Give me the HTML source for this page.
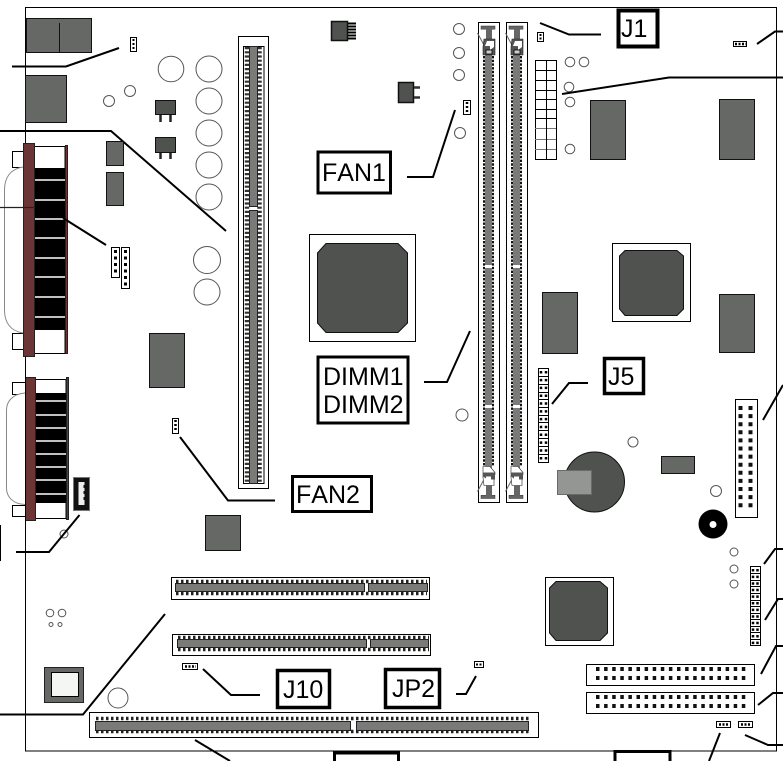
<!DOCTYPE html>
<html><head><meta charset="utf-8"><style>
html,body{margin:0;padding:0;background:#fff;width:783px;height:761px;overflow:hidden}
svg{display:block}
text{font-family:"Liberation Sans",sans-serif;font-size:25px;fill:#000;font-kerning:none}
.b{fill:#666865;stroke:#111;stroke-width:1}
.d{fill:#50524f;stroke:#111;stroke-width:1}
.c{fill:#fff;stroke:#555;stroke-width:1}
.w{fill:#fff;stroke:#000;stroke-width:1}
.l{fill:none;stroke:#000;stroke-width:2}
.x{fill:#fff;stroke:#000;stroke-width:3}
.s{fill:#7a7b79;stroke:#222;stroke-width:1}
.wl{stroke:#fff;stroke-width:1.6}
.br{fill:#6b3535;stroke:#222;stroke-width:1}
.dot{fill:none;stroke:#000;stroke-width:3}
</style></head><body>
<svg width="783" height="761" viewBox="0 0 783 761" xmlns="http://www.w3.org/2000/svg">
<rect x="25.5" y="7.5" width="751" height="743.5" fill="#fff" stroke="#000" stroke-width="1"/>

<!-- top-left -->
<rect class="b" x="26.5" y="18.5" width="65" height="34"/><path d="M59.5 23V52" stroke="#111"/>
<rect class="b" x="25.5" y="75.5" width="41" height="47"/>
<rect class="w" x="130.5" y="37.5" width="6" height="14"/><path d="M133.5 39V49" stroke="#000" stroke-width="2" stroke-dasharray="2 2"/>
<path class="l" d="M12 66.500H66L119 48"/>
<g class="c">
<circle cx="171" cy="69" r="12.800"/><circle cx="209" cy="69" r="13"/><circle cx="209" cy="101" r="13"/><circle cx="209" cy="133" r="13"/><circle cx="209" cy="165" r="13"/><circle cx="209" cy="197" r="13"/><circle cx="207" cy="260" r="13.500"/><circle cx="207" cy="292" r="13"/>
<circle cx="109" cy="101" r="5.500"/><circle cx="130" cy="91" r="5.500"/>
</g>
<rect class="d" x="155.500" y="100.500" width="20" height="14"/><rect class="d" x="155.500" y="137.500" width="20" height="15"/>
<path d="M160.500 115V122M170.500 115V122M160.500 153V159M170.500 153V159" stroke="#222" stroke-width="2.500"/>
<path class="l" d="M0 131H111L226 231"/>
<rect class="b" x="106.500" y="141.500" width="17" height="24"/><rect class="b" x="106.500" y="172.500" width="17" height="33"/>

<!-- upper D connector -->
<rect class="w" x="12.500" y="151.500" width="11" height="16"/><rect class="w" x="12.500" y="333.500" width="11" height="16"/>
<path d="M23 167C10 169 4.500 178 4.500 190V310C4.500 322 10 331 23 333" fill="#fff" stroke="#888" stroke-width="1"/>
<rect class="w" x="34" y="146.500" width="31" height="207"/>
<rect x="34" y="168" width="31" height="162" fill="#000"/>
<path class="wl" d="M35 180H65M35 200H65M35 219H65M35 238H65M35 258H65M35 277H65M35 297H65M35 317H65"/>
<rect class="br" x="23.500" y="143.500" width="11" height="213"/>
<rect class="br" x="65.500" y="145.500" width="2" height="208"/>
<path d="M0 207.500H34" stroke="#222" stroke-width="1.200"/>
<path d="M63 218L106 245" stroke="#000" stroke-width="2"/>
<rect class="w" x="111.500" y="247.500" width="8" height="30"/><rect class="w" x="121.500" y="247.500" width="8" height="41"/>
<path class="dot" d="M115.500 250V276M125.500 250V287" stroke-dasharray="3 3.500"/>

<!-- lower D connector -->
<rect class="w" x="12.500" y="382.500" width="13" height="12"/><rect class="w" x="12.500" y="505.500" width="14" height="11"/>
<path d="M25 393C12 394 6.500 402 6.500 410V488C6.500 496 12 504 25 504.500" fill="#fff" stroke="#888"/>
<rect class="w" x="35" y="379.500" width="31" height="139"/>
<rect x="35" y="393" width="31" height="110" fill="#000"/>
<path class="wl" d="M35 401H66M35 415H66M35 428H66M35 441H66M35 454H66M35 467H66M35 480H66M35 494H66"/>
<rect class="br" x="25.500" y="377.500" width="10" height="143"/>
<rect class="br" x="66.500" y="377.500" width="2" height="142"/>
<path d="M25.500 377V521" stroke="#000"/>
<rect x="73.500" y="477.500" width="16" height="33" fill="#111" stroke="#777"/>
<rect x="78.500" y="482" width="6" height="23" fill="#eee"/><path d="M84.500 485V502" stroke="#111" stroke-width="2" stroke-dasharray="3 3"/>
<circle class="c" cx="64" cy="534" r="4"/>
<path class="l" d="M79.500 515L49 552H16"/>
<path d="M0.500 525V561" stroke="#000"/>

<rect class="b" x="149.500" y="333.500" width="35" height="54"/>
<rect class="w" x="172.500" y="418.500" width="6" height="15"/><path d="M175.500 420V432" stroke="#000" stroke-width="2.500" stroke-dasharray="2 2"/>
<path class="l" d="M180 437L228 500.500H275"/>
<rect class="b" x="205.500" y="515.500" width="35" height="35"/>

<!-- long vertical slot -->
<rect class="w" x="238.500" y="36.500" width="30" height="452"/>
<rect class="w" x="243.500" y="46.500" width="20.500" height="437"/>
<path d="M247 47V483M259.500 47V483" stroke="#333" stroke-width="4.500" stroke-dasharray="2.200 2"/>
<rect class="s" x="249.500" y="46.500" width="8" height="160"/><rect class="s" x="249.500" y="210.500" width="8" height="273"/>

<!-- CPU -->
<rect class="w" x="309.500" y="234.500" width="106" height="107"/>
<path class="d" d="M326 243.500H398L407.500 253V323L398 332.500H326L317.500 323V253Z"/>
<rect class="d" x="331.500" y="21.500" width="16" height="19" style="stroke-width:1.500"/>
<path d="M348 23.500H356M348 26.500H356M348 29.500H356M348 32.500H356M348 35.500H356M348 38.500H356" stroke="#000" stroke-width="2"/>
<rect class="d" x="398.500" y="82.500" width="15" height="20" style="stroke-width:1.500"/>
<path d="M414 87.500H420M414 97.500H420" stroke="#333" stroke-width="2.500"/>
<g class="c"><circle cx="459" cy="29" r="5.500"/><circle cx="459" cy="53" r="5.500"/><circle cx="459" cy="75" r="5.500"/><circle cx="460" cy="133" r="5.500"/><circle cx="462" cy="415" r="6"/></g>
<rect class="w" x="463.500" y="100.500" width="7" height="14"/><path d="M467 102V113" stroke="#000" stroke-width="2.500" stroke-dasharray="2 2"/>
<path class="l" d="M455 110L433 177H407"/>
<rect class="x" x="318" y="152" width="72.500" height="41"/><text x="322" y="181">FAN1</text>
<rect class="x" x="318" y="357" width="90" height="66"/><text x="323" y="385">DIMM1</text><text x="323" y="413">DIMM2</text>
<path class="l" d="M470 331L447 382H424"/>

<!-- DIMM slots -->
<rect class="w" x="478.500" y="22.500" width="21" height="480"/><rect class="w" x="506.500" y="22.500" width="21" height="480"/>
<path d="M484 56V466M493 56V466M512 56V466M521 56V466" stroke="#111" stroke-width="2" stroke-dasharray="2.400 1.300"/>
<g fill="#7a7b79">
<rect x="485" y="54" width="7" height="211"/><rect x="485" y="268" width="7" height="137"/><rect x="485" y="408" width="7" height="60"/>
<rect x="513" y="54" width="7" height="211"/><rect x="513" y="268" width="7" height="137"/><rect x="513" y="408" width="7" height="60"/>
</g>
<!-- top clips -->
<g id="clipA">
<path d="M477.500 33L485 47" stroke="#666" fill="none"/>
<rect x="481" y="26" width="14" height="3.200" fill="#666" stroke="#333" stroke-width=".5"/>
<rect x="486" y="29" width="6" height="10" fill="#666"/>
<path d="M484 39H495V55H483V47Z" fill="#555" stroke="#222" stroke-width=".6"/>
<path d="M487 41H494V47L490 50V46H485Z" fill="#fff"/>
<rect x="486" y="50" width="6" height="4" fill="#ccc" stroke="#000" stroke-width=".8"/>
</g>
<g transform="translate(28,0)">
<path d="M477.500 33L485 47" stroke="#666" fill="none"/>
<rect x="481" y="26" width="14" height="3.200" fill="#666" stroke="#333" stroke-width=".5"/>
<rect x="486" y="29" width="6" height="10" fill="#666"/>
<path d="M484 39H495V55H483V47Z" fill="#555" stroke="#222" stroke-width=".6"/>
<path d="M487 41H494V47L490 50V46H485Z" fill="#fff"/>
<rect x="486" y="50" width="6" height="4" fill="#ccc" stroke="#000" stroke-width=".8"/>
</g>
<!-- bottom clips -->
<g transform="translate(0,524.500) scale(1,-1)">
<path d="M477.500 33L485 47" stroke="#666" fill="none"/>
<rect x="481" y="26" width="14" height="3.200" fill="#666" stroke="#333" stroke-width=".5"/>
<rect x="486" y="29" width="6" height="10" fill="#666"/>
<path d="M484 39H494V50H495V52L490 58H483V47Z" fill="#fff" stroke="#222" stroke-width=".6"/>
<path d="M483 52H495V45H491V48H486V46L483 48Z" fill="#555"/>
</g>
<g transform="translate(28,524.500) scale(1,-1)">
<path d="M477.500 33L485 47" stroke="#666" fill="none"/>
<rect x="481" y="26" width="14" height="3.200" fill="#666" stroke="#333" stroke-width=".5"/>
<rect x="486" y="29" width="6" height="10" fill="#666"/>
<path d="M484 39H494V50H495V52L490 58H483V47Z" fill="#fff" stroke="#222" stroke-width=".6"/>
<path d="M483 52H495V45H491V48H486V46L483 48Z" fill="#555"/>
</g>

<!-- J1 area -->
<rect x="618.500" y="10.500" width="39" height="36" fill="#fff" stroke="#000" stroke-width="4"/><text x="621" y="37">J1</text>
<path class="l" d="M540 23L569 34.500H601"/>
<rect class="w" x="537.500" y="32.500" width="6" height="9"/><path d="M540.500 34V41" stroke="#000" stroke-width="2" stroke-dasharray="2 1.500"/>
<rect class="w" x="535.500" y="60.500" width="21" height="99"/>
<path d="M546.500 60V159M535 70.500H556M535 80.500H556M535 90.500H556M535 99.500H556M535 109.500H556M535 118.500H556" stroke="#000"/>
<path d="M535 128.500H556M535 139.500H556M535 149.500H556" stroke="#777"/>
<path d="M546.500 125V159" stroke="#000"/>
<g class="c"><circle cx="570" cy="62" r="4.800"/><circle cx="584" cy="62" r="4.800"/><circle cx="569" cy="87" r="4.800"/><circle cx="570" cy="102" r="4.800"/><circle cx="570" cy="149" r="4.800"/></g>
<path class="l" d="M562 94L669 77.500H783"/>
<rect class="b" x="590.500" y="100.500" width="35" height="59"/><rect class="b" x="719.500" y="99.500" width="35" height="60"/>
<rect class="w" x="733.500" y="41.500" width="13" height="5"/><path d="M735 44H746" stroke="#000" stroke-width="2.500" stroke-dasharray="2 1.500"/>
<path class="l" d="M757 44L775 31.500H783"/>

<rect class="w" x="612.500" y="243.500" width="78" height="78"/>
<path class="d" d="M625 250.500H677L683.500 256V309L677 315.500H625L619.500 309V256Z"/>
<rect class="b" x="542.500" y="292.500" width="35" height="61"/><rect class="b" x="719.500" y="294.500" width="35" height="58"/>

<!-- J5 -->
<rect class="x" x="604.500" y="358.500" width="39" height="35" style="stroke-width:3.500"/><text x="608" y="385">J5</text>
<path class="l" d="M552 404L569 383H588"/>
<rect class="w" x="538.500" y="368.500" width="10" height="94"/>
<path d="M538 376.500H548M538 384.500H548M538 392.500H548M538 399.500H548M538 407.500H548M538 415.500H548M538 422.500H548M538 430.500H548M538 438.500H548M538 446.500H548M538 454.500H548" stroke="#000"/>
<path d="M541 371V462M546 371V462" stroke="#000" stroke-width="2.500" stroke-dasharray="2.500 5.320"/>

<circle class="c" cx="633" cy="442" r="5"/><circle class="c" cx="716" cy="491" r="5.500"/>
<circle class="d" cx="594.500" cy="482" r="30"/>
<rect x="557.500" y="470.500" width="34" height="24" fill="#949694" stroke="#6a6a6a"/>
<rect class="b" x="661.500" y="456.500" width="33" height="17"/>
<circle cx="713" cy="524" r="14.500" fill="#000"/><circle cx="713" cy="524.500" r="3.500" fill="#fff"/>

<rect class="w" x="735.500" y="399.500" width="22" height="118"/>
<path d="M740.500 406V509M750.500 406V509" stroke="#111" stroke-width="4" stroke-dasharray="4 4.100"/>
<path class="l" d="M763 420L783 385"/>

<g class="c"><circle cx="734" cy="552" r="4"/><circle cx="734" cy="569" r="4"/><circle cx="734" cy="584" r="4"/></g>
<rect class="w" x="750.500" y="566.500" width="10" height="79"/>
<path d="M750 573.500H760M750 580.500H760M750 586.500H760M750 593.500H760M750 600.500H760M750 606.500H760M750 613.500H760M750 619.500H760M750 626.500H760M750 632.500H760M750 639.500H760" stroke="#000"/>
<path d="M753 569V645M757.500 569V645" stroke="#000" stroke-width="2.500" stroke-dasharray="2.500 4.100"/>
<path class="l" d="M764 564L775 549H783M765 620L778 599H783M761 674L776 646H783M758 705L773 693H783M745 735L768 745H783M720 733L709 761"/>

<rect class="w" x="545.500" y="577.500" width="68" height="68"/>
<path class="d" d="M556 581.500H600L607.500 588V633L600 640.500H556L549.500 633V588Z"/>

<rect class="w" x="586.500" y="664.500" width="168" height="21"/><rect class="w" x="586.500" y="692.500" width="168" height="21"/>
<path d="M596 669H746M596 678H746M596 697H746M596 706H746" stroke="#111" stroke-width="4" stroke-dasharray="3.500 4.600"/>
<rect class="w" x="716.500" y="721.500" width="14" height="6"/><rect class="w" x="738.500" y="721.500" width="14" height="6"/>
<path d="M719 724.500H729M741 724.500H751" stroke="#000" stroke-width="2.500" stroke-dasharray="2 1.500"/>

<!-- bottom tabs -->
<path d="M334.500 761V753H398.500V761M615 761V751.500H670V761" fill="#fff" stroke="#000" stroke-width="3"/>

<!-- PCI -->
<rect class="w" x="171.500" y="577.500" width="258" height="22"/>
<path d="M176 581.500H427M176 593.500H427" stroke="#222" stroke-width="3.500" stroke-dasharray="2.500 2.500"/>
<rect class="s" x="175.500" y="583.500" width="189" height="8"/><rect class="s" x="368.500" y="583.500" width="59" height="8"/>
<rect class="w" x="172.500" y="634.500" width="258" height="21"/>
<path d="M178 637.500H429M178 649.500H429" stroke="#222" stroke-width="3.500" stroke-dasharray="2.500 2.500"/>
<rect class="s" x="177.500" y="639.500" width="189" height="8"/><rect class="s" x="370.500" y="639.500" width="58" height="8"/>
<rect class="w" x="182.500" y="663.500" width="15" height="6"/><path d="M185 666.500H196" stroke="#000" stroke-width="2.500" stroke-dasharray="2 1.500"/>
<path class="l" d="M203 669L231 695H260"/>
<rect x="277.500" y="670.500" width="52" height="37" fill="#fff" stroke="#000" stroke-width="3.500"/><text x="283" y="698">J10</text>
<rect x="385.500" y="669.500" width="54" height="38" fill="#fff" stroke="#000" stroke-width="3.500"/><text x="392" y="697">JP2</text>
<rect class="w" x="474.500" y="661.500" width="9" height="6"/><path d="M476 664.500H482" stroke="#000" stroke-width="2" stroke-dasharray="2 1.500"/>
<path class="l" d="M476 676L466 694H456"/>
<rect x="292.500" y="476.500" width="79" height="35" fill="#fff" stroke="#000" stroke-width="3"/><text x="296" y="503">FAN2</text>

<path class="l" d="M165 614L83 714.500H0"/>
<rect x="44.500" y="667.500" width="39" height="35" fill="#666865" stroke="#222"/><rect x="51.500" y="672.500" width="27" height="24" fill="#f4f6f4" stroke="#000"/>
<circle class="c" cx="118" cy="698" r="10"/>
<g class="c"><circle cx="50" cy="613" r="3.800"/><circle cx="62" cy="613" r="3.800"/><circle cx="51" cy="624.500" r="2"/><circle cx="60" cy="624.500" r="2"/></g>

<rect class="w" x="89.500" y="712.500" width="449" height="25"/>
<path d="M96 718.500H529M96 731.500H529" stroke="#222" stroke-width="3.500" stroke-dasharray="2.500 2.500"/>
<rect class="s" x="95.500" y="721.500" width="255" height="9"/><rect class="s" x="356.500" y="721.500" width="172" height="9"/>
<path class="l" d="M195 740L230 761"/>
</svg>
</body></html>
